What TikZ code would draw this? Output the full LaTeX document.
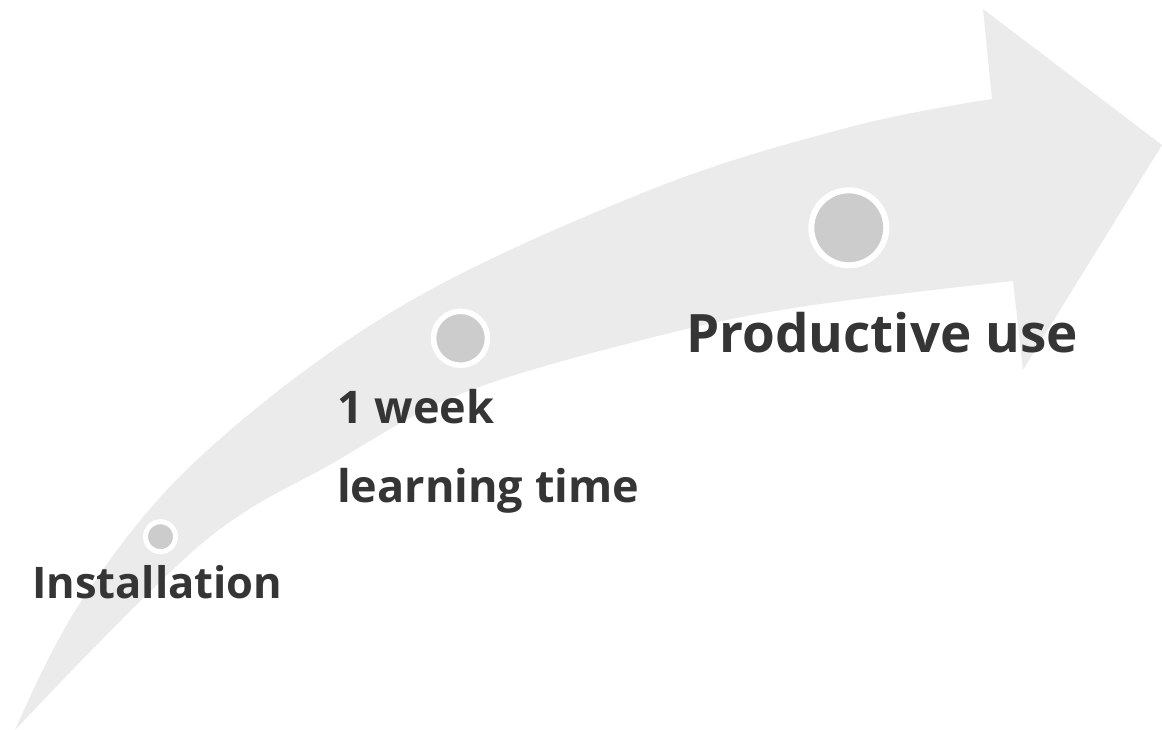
\documentclass[tikz,border=0pt]{standalone}
\usepackage{fontspec}
\setmainfont{Open Sans}
\definecolor{arrowgray}{HTML}{EBEBEB}
\definecolor{dotgray}{HTML}{CCCCCC}
\definecolor{textgray}{HTML}{353535}
\begin{document}
\begin{tikzpicture}[x=1pt,y=-1pt,
  dot/.style={circle,fill=dotgray,draw=white,inner sep=0pt},
  lbl/.style={anchor=base west,inner sep=0pt,text=textgray,font=\bfseries}]
\useasboundingbox (0,0) rectangle (1162,730);
\fill[arrowgray] plot[smooth,tension=0.6] coordinates {(15,730) (82,600) (200,457) (400,307) (650,190) (850,127) (992,99)}
  -- (983,9) -- (1162,145) -- (1023,370) -- (1013,281)
  -- plot[smooth,tension=0.6] coordinates {(1013,281) (800,307) (650,338) (463,393) (333,463) (200,545) (15,730)} -- cycle;
\node[dot,line width=5pt,minimum size=30pt] (d1) at (160.5,536.7) {};
\node[dot,line width=5.5pt,minimum size=54pt] (d2) at (460.5,338.3) {};
\node[dot,line width=6pt,minimum size=75pt] (d3) at (848.8,227.8) {};
\node[lbl,font=\bfseries\fontsize{43.5}{50}\selectfont] (t1) at (32,598) {Installation};
\node[lbl,font=\bfseries\fontsize{45}{54}\selectfont] (t2) at (337,423) {1 week};
\node[lbl,font=\bfseries\fontsize{45}{54}\selectfont] (t3) at (337,502) {learning time};
\node[lbl,font=\bfseries\fontsize{53}{62}\selectfont] (t4) at (686,352) {Productive use};
\end{tikzpicture}
\end{document}
